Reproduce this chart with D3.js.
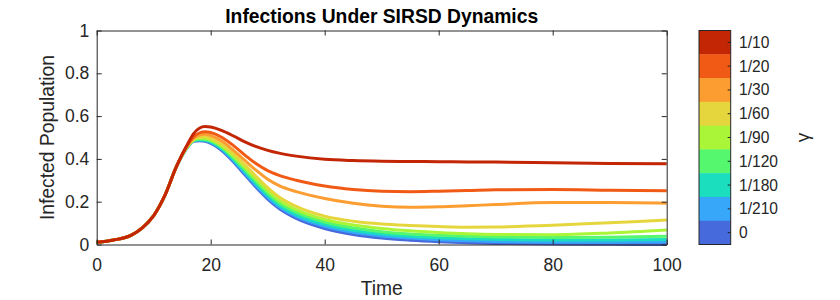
<!DOCTYPE html>
<html><head><meta charset="utf-8">
<script src="https://cdn.jsdelivr.net/npm/d3@7"></script>
<style>
html,body{margin:0;padding:0;background:#fff;}
text{font-family:"Liberation Sans",Arial,Helvetica,sans-serif;}
</style></head>
<body><svg id="chart" width="840" height="300"></svg>
<script>
// ---- data ----
const time = [0,3,6,8,10,12,14,16,17,18,19,20,22,24,26,28,30,32,35,40,45,50,55,60,65,70,80,90,100];
const gammaLabels = ["1/10","1/20","1/30","1/60","1/90","1/120","1/180","1/210","0"];
const infG10  = [0.010,0.021,0.043,0.078,0.135,0.232,0.365,0.472,0.518,0.543,0.551,0.549,0.532,0.507,0.480,0.457,0.440,0.427,0.413,0.398,0.392,0.389,0.388,0.387,0.386,0.385,0.382,0.379,0.377];
const infG20  = [0.010,0.021,0.043,0.078,0.135,0.232,0.365,0.468,0.503,0.521,0.527,0.523,0.500,0.462,0.418,0.377,0.345,0.323,0.300,0.273,0.257,0.249,0.247,0.249,0.252,0.256,0.257,0.254,0.251];
const infG30  = [0.010,0.021,0.043,0.078,0.135,0.232,0.365,0.465,0.497,0.511,0.515,0.509,0.482,0.440,0.393,0.346,0.305,0.275,0.247,0.215,0.193,0.179,0.174,0.176,0.181,0.187,0.196,0.196,0.193];
const infG60  = [0.010,0.021,0.043,0.078,0.135,0.232,0.365,0.462,0.492,0.502,0.503,0.496,0.467,0.423,0.372,0.318,0.266,0.222,0.178,0.132,0.109,0.096,0.089,0.084,0.081,0.082,0.090,0.102,0.114];
const infG90  = [0.010,0.021,0.043,0.078,0.135,0.232,0.365,0.460,0.489,0.497,0.496,0.489,0.459,0.413,0.360,0.304,0.252,0.207,0.163,0.117,0.091,0.075,0.064,0.056,0.050,0.047,0.046,0.054,0.068];
const infG120 = [0.010,0.021,0.043,0.078,0.135,0.232,0.365,0.459,0.487,0.493,0.491,0.484,0.453,0.405,0.350,0.293,0.240,0.195,0.151,0.105,0.078,0.060,0.049,0.043,0.038,0.035,0.033,0.034,0.038];
const infG180 = [0.010,0.021,0.043,0.078,0.135,0.232,0.365,0.458,0.485,0.490,0.488,0.480,0.447,0.398,0.341,0.283,0.229,0.185,0.140,0.094,0.067,0.049,0.038,0.031,0.027,0.024,0.021,0.021,0.023];
const infG210 = [0.010,0.021,0.043,0.078,0.135,0.232,0.365,0.457,0.484,0.488,0.486,0.477,0.443,0.392,0.333,0.274,0.220,0.176,0.131,0.085,0.057,0.040,0.030,0.022,0.018,0.014,0.011,0.011,0.012];
const infG0   = [0.010,0.021,0.043,0.078,0.135,0.232,0.365,0.456,0.482,0.485,0.482,0.473,0.438,0.386,0.326,0.266,0.212,0.168,0.122,0.075,0.047,0.030,0.020,0.013,0.008,0.005,0.002,0.001,0.000];
const xTicks = [0,20,40,60,80,100];
const yTicks = [0,0.2,0.4,0.6,0.8,1];
const yTickLabels = ["0","0.2","0.4","0.6","0.8","1"];

// ---- styles ----
const gammaColors = ["#C22605","#F05A15","#FB9D31","#E6D63E","#AAF538","#55F76E","#1ADEBE","#37A8F9","#4669DC"];
const seriesList = [infG10,infG20,infG30,infG60,infG90,infG120,infG180,infG210,infG0];
const ink = "#262626";

const svg = d3.select("#chart");
svg.append("rect").attr("width",840).attr("height",300).attr("fill","#fff");

const x = d3.scaleLinear().domain([0,100]).range([96.7,666.7]);
const y = d3.scaleLinear().domain([0,1]).range([244.5,30.5]);

// lines: draw from gamma=0 up to 1/10 (top)
const line = d3.line().x((d,i)=>x(time[i])).y(d=>y(d)).curve(d3.curveMonotoneX);
const order = d3.range(seriesList.length).reverse();
const gLines = svg.append("g");
order.forEach(k=>{
  gLines.append("path").datum(seriesList[k])
    .attr("d",line).attr("fill","none")
    .attr("stroke",gammaColors[k]).attr("stroke-width",3)
    .attr("stroke-linejoin","round").attr("stroke-linecap","butt");
});

// axes
function styleAxis(g){
  g.selectAll("path.domain").attr("stroke",ink).attr("stroke-width",1);
  g.selectAll(".tick line").attr("stroke",ink).attr("stroke-width",1);
  g.selectAll("text").attr("fill",ink).style("font-family","'Liberation Sans',Arial,sans-serif").style("font-size","17.5px");
}
const axB = svg.append("g").attr("transform",`translate(0,${y(0)})`)
  .call(d3.axisBottom(x).tickValues(xTicks).tickFormat(d3.format("d")).tickSize(-5).tickSizeOuter(0).tickPadding(14.5));
styleAxis(axB);
const axL = svg.append("g").attr("transform",`translate(${x(0)},0)`)
  .call(d3.axisLeft(y).tickValues(yTicks).tickFormat((d,i)=>yTickLabels[i]).tickSize(-5).tickSizeOuter(0).tickPadding(7.4));
styleAxis(axL);
const axT = svg.append("g").attr("transform",`translate(0,${y(1)})`)
  .call(d3.axisTop(x).tickValues(xTicks).tickFormat("").tickSize(-5).tickSizeOuter(0));
styleAxis(axT);
const axR = svg.append("g").attr("transform",`translate(${x(100)},0)`)
  .call(d3.axisRight(y).tickValues(yTicks).tickFormat("").tickSize(-5).tickSizeOuter(0));
styleAxis(axR);
[axB,axL,axT,axR].forEach(g=>g.attr("font-family",null).attr("font-size",null));

// labels
svg.append("text").attr("x",381.7).attr("y",23.2).attr("text-anchor","middle")
  .style("font-size","19.3px").style("font-weight","bold").attr("fill","#000")
  .text("Infections Under SIRSD Dynamics");
svg.append("text").attr("x",381.7).attr("y",295).attr("text-anchor","middle")
  .style("font-size","19.3px").attr("fill",ink).text("Time");
svg.append("text").attr("transform",`translate(54,${(y(0)+y(1))/2}) rotate(-90)`)
  .attr("text-anchor","middle").style("font-size","19.3px").attr("fill",ink)
  .text("Infected Population");

// colorbar
const cb = d3.scaleBand().domain(gammaLabels).range([30.5,244.5]).paddingInner(0).paddingOuter(0);
const cbX0 = 699, cbW = 31.7;
const gCb = svg.append("g");
gammaLabels.forEach((lab,i)=>{
  gCb.append("rect").attr("x",cbX0).attr("y",cb(lab)).attr("width",cbW).attr("height",cb.bandwidth()+0.4)
    .attr("fill",gammaColors[i]);
});
gCb.append("rect").attr("x",cbX0).attr("y",30.5).attr("width",cbW).attr("height",214)
  .attr("fill","none").attr("stroke",ink).attr("stroke-width",1);
gammaLabels.forEach((lab)=>{
  const cy = cb(lab)+cb.bandwidth()/2;
  gCb.append("line").attr("x1",cbX0+cbW-3).attr("x2",cbX0+cbW).attr("y1",cy).attr("y2",cy)
    .attr("stroke",ink).attr("stroke-width",1);
  gCb.append("text").attr("x",739).attr("y",cy).attr("dy","0.35em")
    .style("font-size","15.6px").attr("fill",ink).text(lab);
});
svg.append("text").attr("transform",`translate(809,${(y(0)+y(1))/2}) rotate(-90)`)
  .attr("text-anchor","middle").style("font-size","19px").attr("fill",ink).text("γ");
</script></body></html>
